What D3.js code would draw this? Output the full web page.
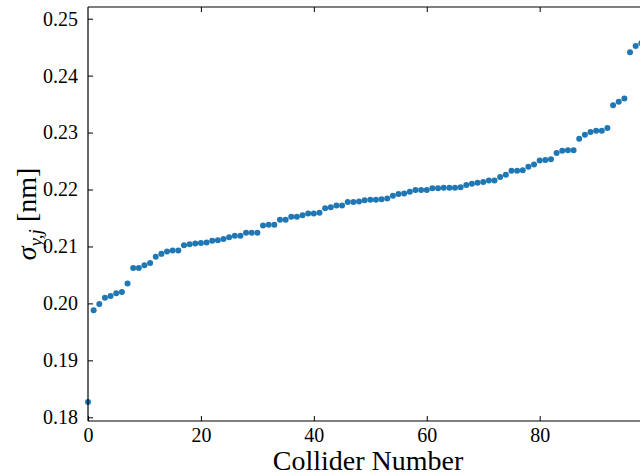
<!DOCTYPE html>
<html>
<head>
<meta charset="utf-8">
<script src="https://cdn.jsdelivr.net/npm/d3@7"></script>
<style>
  html, body { margin: 0; padding: 0; background: #fff; }
  svg { display: block; }
</style>
</head>
<body>
<div id="chart"></div>
<script>
// Data
const sigmaValues = [
  0.1827, 0.1988, 0.1999, 0.2010, 0.2013, 0.2018, 0.2020, 0.2035, 0.2062, 0.2062,
  0.2067, 0.2071, 0.2082, 0.2087, 0.2091, 0.2093, 0.2093, 0.2102, 0.2104, 0.2105,
  0.2106, 0.2107, 0.2110, 0.2111, 0.2113, 0.2116, 0.2119, 0.2119, 0.2124, 0.2124,
  0.2124, 0.2137, 0.2138, 0.2138, 0.2147, 0.2147, 0.2152, 0.2152, 0.2155, 0.2158,
  0.2158, 0.2159, 0.2167, 0.2169, 0.2172, 0.2172, 0.2178, 0.2178, 0.2179, 0.2181,
  0.2182, 0.2182, 0.2183, 0.2184, 0.2189, 0.2192, 0.2193, 0.2196, 0.2199, 0.2199,
  0.2199, 0.2202, 0.2202, 0.2203, 0.2203, 0.2203, 0.2204, 0.2208, 0.2210, 0.2212,
  0.2213, 0.2216, 0.2216, 0.2222, 0.2226, 0.2233, 0.2233, 0.2234, 0.2240, 0.2244,
  0.2251, 0.2252, 0.2253, 0.2264, 0.2268, 0.2269, 0.2269, 0.2289, 0.2296, 0.2301,
  0.2303, 0.2303, 0.2308, 0.2348, 0.2354, 0.2360, 0.2441, 0.2452, 0.2457
];
const colliderIndex = sigmaValues.map((_, i) => i);
const xTicks = [0, 20, 40, 60, 80];
const yTicks = [0.18, 0.19, 0.20, 0.21, 0.22, 0.23, 0.24, 0.25];
const xLabel = "Collider Number";

(function () {
const W = 640, H = 475;
const mLeft = 88, mTop = 7, mBottom = 421;
const pxPerUnit = 5.646;

const svg = d3.select("#chart").append("svg")
  .attr("width", W).attr("height", H)
  .style("font-family", "'Liberation Serif', 'DejaVu Serif', serif");

const x = d3.scaleLinear().domain([0, 100]).range([mLeft, mLeft + 100 * pxPerUnit]);
const y = d3.scaleLinear().domain([0.17935, 0.25205]).range([mBottom, mTop]);

// Points
svg.append("g")
  .selectAll("circle")
  .data(colliderIndex)
  .join("circle")
  .attr("cx", d => x(d))
  .attr("cy", d => y(sigmaValues[d]))
  .attr("r", 3)
  .attr("fill", "#1f77b4");

// Spines
svg.append("line").attr("x1", mLeft).attr("x2", W).attr("y1", mTop).attr("y2", mTop)
  .attr("stroke", "#000").attr("stroke-width", 1.2);
svg.append("line").attr("x1", mLeft).attr("x2", W).attr("y1", mBottom).attr("y2", mBottom)
  .attr("stroke", "#000").attr("stroke-width", 1.2);
svg.append("line").attr("x1", mLeft).attr("x2", mLeft).attr("y1", mTop).attr("y2", mBottom)
  .attr("stroke", "#000").attr("stroke-width", 1.2);

// Axes with inward ticks
const fmtY = d3.format(".2f");
const yAxis = d3.axisLeft(y).tickValues(yTicks).tickSizeInner(-5).tickSizeOuter(0)
  .tickPadding(10).tickFormat(fmtY);
const gy = svg.append("g").attr("transform", `translate(${mLeft},0)`).call(yAxis);
gy.select(".domain").remove();

const xAxis = d3.axisBottom(x).tickValues(xTicks).tickSizeInner(-5).tickSizeOuter(0)
  .tickPadding(7).tickFormat(d3.format("d"));
const gx = svg.append("g").attr("transform", `translate(0,${mBottom})`).call(xAxis);
gx.select(".domain").remove();

const xAxisTop = d3.axisTop(x).tickValues(xTicks.filter(d => d > 0)).tickSizeInner(-5)
  .tickSizeOuter(0).tickFormat("");
const gxt = svg.append("g").attr("transform", `translate(0,${mTop})`).call(xAxisTop);
gxt.select(".domain").remove();

[gy, gx, gxt].forEach(g => {
  g.selectAll(".tick line").attr("stroke", "#000").attr("stroke-width", 1);
  g.selectAll(".tick text").attr("fill", "#000")
    .style("font-family", "'Liberation Serif', 'DejaVu Serif', serif")
    .style("font-size", "20px");
});

// X label
svg.append("text")
  .attr("x", 368).attr("y", 470)
  .attr("text-anchor", "middle")
  .style("font-size", "28px")
  .attr("fill", "#000")
  .text(xLabel);

// Y label: sigma_{y,j} [nm]
const yl = svg.append("text")
  .attr("transform", "translate(36,214) rotate(-90)")
  .attr("text-anchor", "middle")
  .style("font-size", "28px")
  .attr("fill", "#000");
yl.append("tspan").style("font-style", "italic").text("σ");
yl.append("tspan").style("font-style", "italic").style("font-size", "19px")
  .attr("dy", 6).text("y,j");
yl.append("tspan").attr("dy", -6).text(" [nm]");
})();
</script>
</body>
</html>
